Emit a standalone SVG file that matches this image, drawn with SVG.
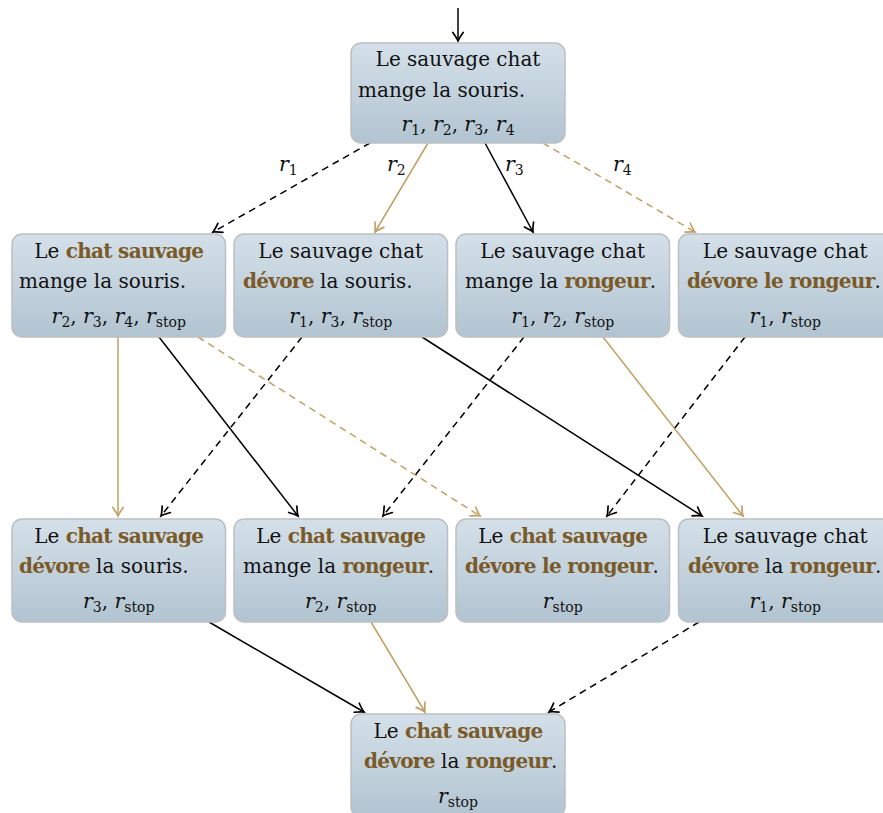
<svg xmlns="http://www.w3.org/2000/svg" width="883" height="813" viewBox="0 0 883 813">
<defs>
<linearGradient id="g" x1="0" y1="0" x2="0" y2="1">
<stop offset="0" stop-color="#d4e0e9"/>
<stop offset="1" stop-color="#b2c4d1"/>
</linearGradient>
<marker id="ak" markerUnits="userSpaceOnUse" markerWidth="18" markerHeight="18" viewBox="-10 -9 13 18" refX="0" refY="0" orient="auto" overflow="visible">
<path d="M-8.5,-5.2 Q-3,-1.2 0,0 Q-3,1.2 -8.5,5.2" fill="none" stroke="#000" stroke-width="1.7" stroke-linecap="round"/>
</marker>
<marker id="at" markerUnits="userSpaceOnUse" markerWidth="18" markerHeight="18" viewBox="-10 -9 13 18" refX="0" refY="0" orient="auto" overflow="visible">
<path d="M-8.5,-5.2 Q-3,-1.2 0,0 Q-3,1.2 -8.5,5.2" fill="none" stroke="#c4a062" stroke-width="1.7" stroke-linecap="round"/>
</marker>
</defs>
<style>
.box{fill:url(#g);stroke:#bcc0c4;stroke-width:1.5}
text{font-family:"DejaVu Serif","Liberation Serif",serif;font-size:20px;fill:#111}
.b{font-weight:bold;fill:#7a5a28;letter-spacing:-0.7px}
.m{font-style:italic;font-size:20.5px}
.s{font-size:14px}
.k{stroke:#000;stroke-width:1.5;fill:none;marker-end:url(#ak)}
.t{stroke:#c4a062;stroke-width:1.5;fill:none;marker-end:url(#at)}
.d{stroke-dasharray:7 5}
</style>
<g id="connectors">
<line class="k" x1="458" y1="8" x2="458" y2="41"/>
<line class="k d" x1="370" y1="143" x2="213" y2="232"/>
<line class="t" x1="428" y1="143" x2="375" y2="232"/>
<line class="k" x1="485" y1="143" x2="533" y2="232"/>
<line class="t d" x1="543" y1="143" x2="695" y2="232"/>
<line class="t" x1="118" y1="337" x2="118" y2="516"/>
<line class="k" x1="159" y1="337" x2="298" y2="516"/>
<line class="t d" x1="198" y1="337" x2="480" y2="516"/>
<line class="k d" x1="302" y1="337" x2="161" y2="516"/>
<line class="k" x1="422" y1="337" x2="702" y2="516"/>
<line class="k d" x1="524" y1="337" x2="383" y2="516"/>
<line class="t" x1="603" y1="337" x2="743" y2="516"/>
<line class="k d" x1="745" y1="337" x2="607" y2="516"/>
<line class="k" x1="209" y1="622" x2="364" y2="712"/>
<line class="t" x1="371" y1="622" x2="425" y2="712"/>
<line class="k d" x1="699" y1="622" x2="549" y2="712"/>
<text x="279" y="171"><tspan class="m">r</tspan><tspan class="s" dy="4">1</tspan></text>
<text x="387" y="171"><tspan class="m">r</tspan><tspan class="s" dy="4">2</tspan></text>
<text x="505" y="171"><tspan class="m">r</tspan><tspan class="s" dy="4">3</tspan></text>
<text x="613" y="171"><tspan class="m">r</tspan><tspan class="s" dy="4">4</tspan></text>
</g>
<g id="n0">
<rect class="box" x="351" y="43" width="214" height="100" rx="10"/>
<text x="458" y="66" text-anchor="middle">Le sauvage chat</text>
<text x="358" y="97">mange la souris.</text>
<text x="458" y="131" text-anchor="middle"><tspan class="m">r</tspan><tspan class="s" dy="4">1</tspan><tspan dy="-4">, </tspan><tspan class="m">r</tspan><tspan class="s" dy="4">2</tspan><tspan dy="-4">, </tspan><tspan class="m">r</tspan><tspan class="s" dy="4">3</tspan><tspan dy="-4">, </tspan><tspan class="m">r</tspan><tspan class="s" dy="4">4</tspan></text>
</g>
<g id="n1">
<rect class="box" x="12" y="234" width="213.5" height="103" rx="10"/>
<text x="118.75" y="258" text-anchor="middle">Le <tspan class="b">chat sauvage</tspan></text>
<text x="19" y="288">mange la souris.</text>
<text x="118.75" y="323" text-anchor="middle"><tspan class="m">r</tspan><tspan class="s" dy="4">2</tspan><tspan dy="-4">, </tspan><tspan class="m">r</tspan><tspan class="s" dy="4">3</tspan><tspan dy="-4">, </tspan><tspan class="m">r</tspan><tspan class="s" dy="4">4</tspan><tspan dy="-4">, </tspan><tspan class="m">r</tspan><tspan class="s" dy="4">stop</tspan></text>
</g>
<g id="n2">
<rect class="box" x="234" y="234" width="213.5" height="103" rx="10"/>
<text x="340.75" y="258" text-anchor="middle">Le sauvage chat</text>
<text x="243" y="288"><tspan class="b">dévore</tspan> la souris.</text>
<text x="340.75" y="323" text-anchor="middle"><tspan class="m">r</tspan><tspan class="s" dy="4">1</tspan><tspan dy="-4">, </tspan><tspan class="m">r</tspan><tspan class="s" dy="4">3</tspan><tspan dy="-4">, </tspan><tspan class="m">r</tspan><tspan class="s" dy="4">stop</tspan></text>
</g>
<g id="n3">
<rect class="box" x="456" y="234" width="213.5" height="103" rx="10"/>
<text x="562.75" y="258" text-anchor="middle">Le sauvage chat</text>
<text x="465" y="288">mange la <tspan class="b">rongeur</tspan>.</text>
<text x="562.75" y="323" text-anchor="middle"><tspan class="m">r</tspan><tspan class="s" dy="4">1</tspan><tspan dy="-4">, </tspan><tspan class="m">r</tspan><tspan class="s" dy="4">2</tspan><tspan dy="-4">, </tspan><tspan class="m">r</tspan><tspan class="s" dy="4">stop</tspan></text>
</g>
<g id="n4">
<rect class="box" x="678.5" y="234" width="213.5" height="103" rx="10"/>
<text x="785.25" y="258" text-anchor="middle">Le sauvage chat</text>
<text x="687" y="288"><tspan class="b">dévore le rongeur</tspan>.</text>
<text x="785.25" y="323" text-anchor="middle"><tspan class="m">r</tspan><tspan class="s" dy="4">1</tspan><tspan dy="-4">, </tspan><tspan class="m">r</tspan><tspan class="s" dy="4">stop</tspan></text>
</g>
<g id="n5">
<rect class="box" x="12" y="519" width="213.5" height="103" rx="10"/>
<text x="118.75" y="543" text-anchor="middle">Le <tspan class="b">chat sauvage</tspan></text>
<text x="19" y="573"><tspan class="b">dévore</tspan> la souris.</text>
<text x="118.75" y="608" text-anchor="middle"><tspan class="m">r</tspan><tspan class="s" dy="4">3</tspan><tspan dy="-4">, </tspan><tspan class="m">r</tspan><tspan class="s" dy="4">stop</tspan></text>
</g>
<g id="n6">
<rect class="box" x="234" y="519" width="213.5" height="103" rx="10"/>
<text x="340.75" y="543" text-anchor="middle">Le <tspan class="b">chat sauvage</tspan></text>
<text x="243" y="573">mange la <tspan class="b">rongeur</tspan>.</text>
<text x="340.75" y="608" text-anchor="middle"><tspan class="m">r</tspan><tspan class="s" dy="4">2</tspan><tspan dy="-4">, </tspan><tspan class="m">r</tspan><tspan class="s" dy="4">stop</tspan></text>
</g>
<g id="n7">
<rect class="box" x="456" y="519" width="213.5" height="103" rx="10"/>
<text x="562.75" y="543" text-anchor="middle">Le <tspan class="b">chat sauvage</tspan></text>
<text x="465" y="573"><tspan class="b">dévore le rongeur</tspan>.</text>
<text x="562.75" y="608" text-anchor="middle"><tspan class="m">r</tspan><tspan class="s" dy="4">stop</tspan></text>
</g>
<g id="n8">
<rect class="box" x="678.5" y="519" width="213.5" height="103" rx="10"/>
<text x="785.25" y="543" text-anchor="middle">Le sauvage chat</text>
<text x="688" y="573"><tspan class="b">dévore</tspan> la <tspan class="b">rongeur</tspan>.</text>
<text x="785.25" y="608" text-anchor="middle"><tspan class="m">r</tspan><tspan class="s" dy="4">1</tspan><tspan dy="-4">, </tspan><tspan class="m">r</tspan><tspan class="s" dy="4">stop</tspan></text>
</g>
<g id="n9">
<rect class="box" x="351" y="714" width="214" height="103" rx="10"/>
<text x="458" y="738" text-anchor="middle">Le <tspan class="b">chat sauvage</tspan></text>
<text x="364" y="768"><tspan class="b">dévore</tspan> la <tspan class="b">rongeur</tspan>.</text>
<text x="458" y="803" text-anchor="middle"><tspan class="m">r</tspan><tspan class="s" dy="4">stop</tspan></text>
</g>
</svg>
